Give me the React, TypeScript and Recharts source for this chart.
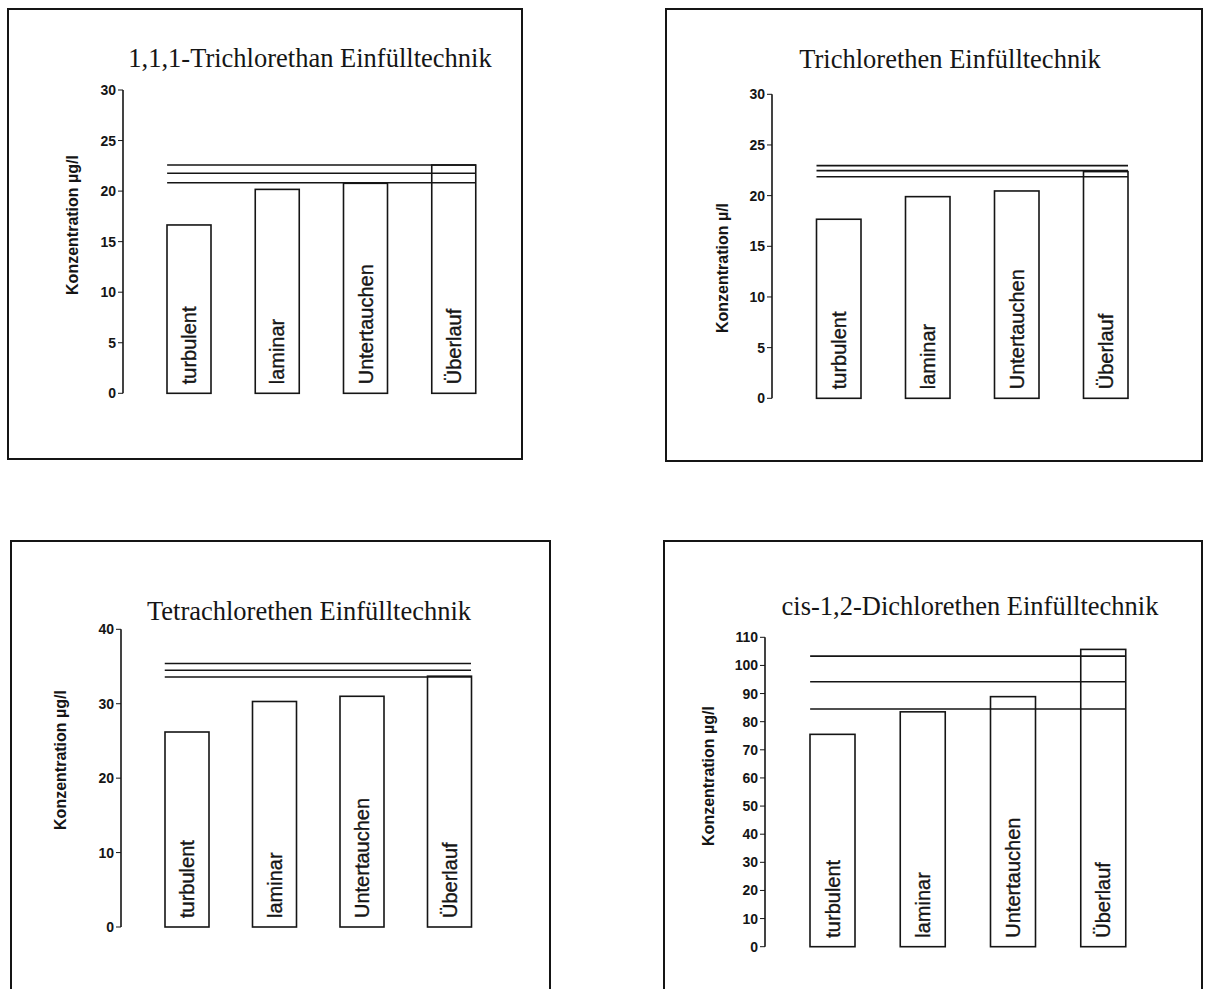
import React from 'react';
import { BarChart, Bar, XAxis, YAxis, ReferenceLine } from 'recharts';

const categories = ['turbulent', 'laminar', 'Untertauchen', 'Überlauf'];

const trichlorethanValues = [16.65, 20.17, 20.77, 22.58];
const trichlorethanLines = [22.58, 21.76, 20.83];
const trichlorethanTicks = [0, 5, 10, 15, 20, 25, 30];

const trichlorethenValues = [17.67, 19.9, 20.46, 22.37];
const trichlorethenLines = [22.96, 22.47, 21.87];
const trichlorethenTicks = [0, 5, 10, 15, 20, 25, 30];

const tetrachlorethenValues = [26.2, 30.3, 31.0, 33.7];
const tetrachlorethenLines = [35.4, 34.5, 33.6];
const tetrachlorethenTicks = [0, 10, 20, 30, 40];

const dichlorethenValues = [75.5, 83.5, 88.9, 105.7];
const dichlorethenLines = [103.3, 94.2, 84.5];
const dichlorethenTicks = [0, 10, 20, 30, 40, 50, 60, 70, 80, 90, 100, 110];

const INK = '#151515';
const SANS = "'Liberation Sans', Arial, sans-serif";
const YW = 40;

type Layout = {
  fx: number; fy: number; fw: number; fh: number;
  L: number; R: number; T: number; B: number;
  labelX: number; labelY: number; titleX: number; titleY: number;
};

const panels = [
  {
    title: '1,1,1-Trichlorethan Einfülltechnik',
    yLabel: 'Konzentration µg/l',
    values: trichlorethanValues,
    lines: trichlorethanLines,
    ticks: trichlorethanTicks,
    layout: { fx: 7, fy: 8, fw: 516, fh: 452, L: 123, R: 476, T: 90, B: 393.3, labelX: 73, labelY: 225, titleX: 310, titleY: 58 },
  },
  {
    title: 'Trichlorethen Einfülltechnik',
    yLabel: 'Konzentration µ/l',
    values: trichlorethenValues,
    lines: trichlorethenLines,
    ticks: trichlorethenTicks,
    layout: { fx: 665, fy: 8, fw: 538, fh: 454, L: 772, R: 1128, T: 94.3, B: 398.3, labelX: 723, labelY: 268, titleX: 950, titleY: 59 },
  },
  {
    title: 'Tetrachlorethen Einfülltechnik',
    yLabel: 'Konzentration µg/l',
    values: tetrachlorethenValues,
    lines: tetrachlorethenLines,
    ticks: tetrachlorethenTicks,
    layout: { fx: 10, fy: 540, fw: 541, fh: 470, L: 121, R: 471, T: 629.3, B: 927, labelX: 61, labelY: 760, titleX: 309, titleY: 611 },
  },
  {
    title: 'cis-1,2-Dichlorethen Einfülltechnik',
    yLabel: 'Konzentration µg/l',
    values: dichlorethenValues,
    lines: dichlorethenLines,
    ticks: dichlorethenTicks,
    layout: { fx: 663, fy: 540, fw: 540, fh: 470, L: 765, R: 1126, T: 637.3, B: 946.7, labelX: 709, labelY: 776, titleX: 970, titleY: 606 },
  },
];

// bar sits in the right half of its category band, name written upward inside
const BarShape = (p: any) => {
  const bx = p.x + p.width / 2;
  const bw = p.width / 2;
  return (
    <g>
      <rect x={bx} y={p.y} width={bw} height={p.height} fill="none" stroke={INK} strokeWidth={1.6} />
      <text
        transform={`translate(${bx + bw / 2}, ${p.y + p.height - 9}) rotate(-90)`}
        textAnchor="start"
        dominantBaseline="central"
        fontFamily={SANS}
        fontSize={20}
        fill={INK}
        stroke={INK}
        strokeWidth={0.35}
      >
        {p.payload.name}
      </text>
    </g>
  );
};

// lines start where the first bar starts
const lineShape = (p: any) => (
  <line
    x1={p.x1 + (p.x2 - p.x1) / 8}
    y1={p.y1}
    x2={p.x2}
    y2={p.y2}
    stroke={INK}
    strokeWidth={1.6}
  />
);

function Panel({ title, yLabel, values, lines, ticks, layout }: { title: string; yLabel: string; values: number[]; lines: number[]; ticks: number[]; layout: Layout }) {
  const { fx, fy, fw, fh, L, R, T, B } = layout;
  const ch = Math.min(fh, 989 - fy);
  const data = categories.map((name, i) => ({ name, value: values[i] }));
  const margin = { top: T - fy, bottom: ch - (B - fy), left: L - fx - YW, right: fw - (R - fx) };

  return (
    <div style={{ position: 'absolute', left: fx, top: fy, width: fw, height: ch, overflow: 'hidden' }}>
      <div style={{ position: 'absolute', left: 0, top: 0, width: fw, height: fh, border: `2px solid ${INK}`, boxSizing: 'border-box' }} />
      <div style={{ position: 'absolute', left: 0, top: 0 }}>
        <BarChart width={fw} height={ch} data={data} margin={margin} barCategoryGap={0} barGap={0}>
          <XAxis dataKey="name" tick={false} tickLine={false} height={0} axisLine={{ stroke: INK, strokeWidth: 1.6 }} />
          <YAxis
            width={YW}
            domain={[0, ticks[ticks.length - 1]]}
            ticks={ticks}
            interval={0}
            tickSize={5}
            tickLine={{ stroke: INK }}
            axisLine={{ stroke: INK, strokeWidth: 1.6 }}
            tick={{ fontSize: 14, fill: INK, fontFamily: SANS, fontWeight: 'bold' }}
          />
          <Bar dataKey="value" isAnimationActive={false} shape={BarShape} />
          {lines.map((v, i) => (
            <ReferenceLine key={i} y={v} shape={lineShape} />
          ))}
        </BarChart>
      </div>
      <div
        style={{
          position: 'absolute', left: layout.titleX - fx, top: layout.titleY - fy,
          transform: 'translate(-50%, -50%)', whiteSpace: 'nowrap',
          fontFamily: "'Liberation Serif', 'Times New Roman', serif", fontSize: 26.5, color: INK,
        }}
      >
        {title}
      </div>
      <div
        style={{
          position: 'absolute', left: layout.labelX - fx, top: layout.labelY - fy,
          transform: 'translate(-50%, -50%) rotate(-90deg)', whiteSpace: 'nowrap',
          fontFamily: SANS, fontSize: 16, fontWeight: 'bold', color: INK,
        }}
      >
        {yLabel}
      </div>
    </div>
  );
}

export default function App() {
  return (
    <div style={{ position: 'fixed', left: 0, top: 0, width: 1207, height: 989, overflow: 'hidden', background: '#fff' }}>
      {panels.map((p) => (
        <Panel key={p.title} {...p} />
      ))}
    </div>
  );
}
